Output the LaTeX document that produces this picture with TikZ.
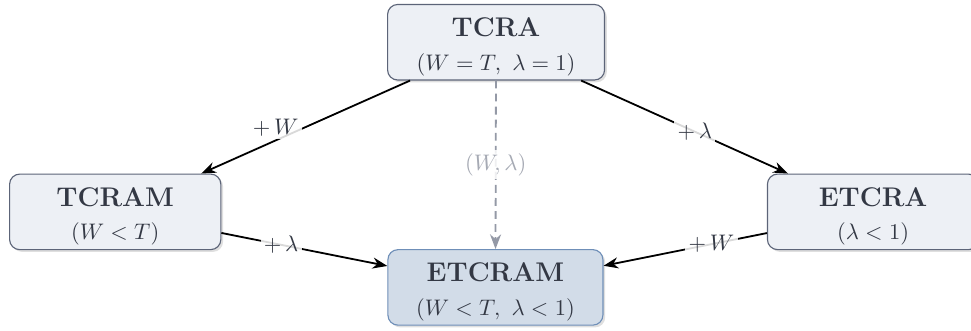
\documentclass[tikz,border=0pt]{standalone}
\usepackage{amsmath,amssymb}
\usepackage{xcolor}
\usepackage{tikz}
\usetikzlibrary{arrows.meta,positioning,shadows}

\definecolor{boxfill}{HTML}{EDF0F5}
\definecolor{boxdraw}{HTML}{5C6478}
\definecolor{goalfill}{HTML}{D2DCE8}
\definecolor{goaldraw}{HTML}{6F8FB8}
\definecolor{boxtext}{HTML}{333844}
\definecolor{dashcol}{HTML}{9499A6}
\definecolor{dashtext}{HTML}{A6AAB4}

% bold title with a little extra room above it
\newcommand{\vname}[1]{{\large\bfseries\rule{0pt}{12.5pt}#1}}

\begin{document}
\begin{tikzpicture}[
  variant/.style={draw=boxdraw,fill=boxfill,line width=0.5pt,rounded corners=4.5pt,
    minimum width=3.3cm,minimum height=1.18cm,inner ysep=1pt,align=center,text=boxtext,
    drop shadow={shadow xshift=1pt,shadow yshift=-1pt,opacity=0.25}},
  goal/.style={variant,draw=goaldraw,fill=goalfill,minimum width=3.36cm},
  extend/.style={thick,-{Stealth[length=2.3mm]}},
  lbl/.style={fill=white,fill opacity=0.85,text opacity=1,inner sep=1.5pt,text=boxtext},
  ]
  \useasboundingbox (0,0) rectangle (15.17,-5.17);

  \node[variant,minimum width=3.39cm] (tcra) at (7.75,-0.66)
    {\vname{TCRA}\\[3pt]$(W=T,\ \lambda=1)$};
  \node[variant] (tcram) at (1.80,-3.31)
    {\vname{TCRAM}\\[3pt]$(W<T)$};
  \node[variant] (etcra) at (13.64,-3.31)
    {\vname{ETCRA}\\[3pt]$(\lambda<1)$};
  \node[goal] (etcram) at (7.74,-4.49)
    {\vname{ETCRAM}\\[3pt]$(W<T,\ \lambda<1)$};

  % single extensions
  \draw[extend] (tcra) -- node[lbl,pos=0.6,yshift=4pt,xshift=-4pt] (lw) {$+\,W$} (tcram);
  \draw[extend] (tcra) -- node[lbl,pos=0.55] (ll) {$+\,\lambda$} (etcra);
  \draw[extend] (tcram) -- node[lbl,pos=0.36] (ll2) {$+\,\lambda$} (etcram);
  \draw[extend] (etcra) -- node[lbl,pos=0.34] (lw2) {$+\,W$} (etcram);

  % both at once
  \draw[dashcol,thick,dash pattern=on 3.5pt off 2.3pt,-{Stealth[length=2.3mm]}] (tcra) --
    node[lbl,text=dashtext,pos=0.5] (lwl) {$(W,\lambda)$} (etcram);
\end{tikzpicture}
\end{document}
